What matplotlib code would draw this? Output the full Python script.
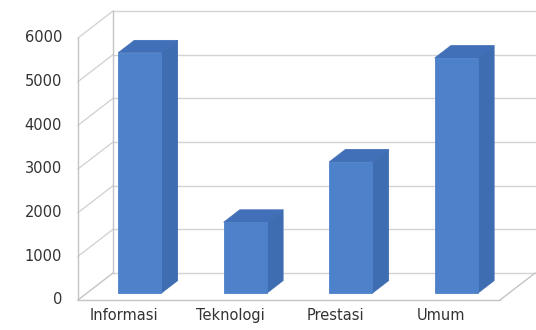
import matplotlib.pyplot as plt
from matplotlib.patches import Polygon

categories = ['Informasi', 'Teknologi', 'Prestasi', 'Umum']
values = [5500, 1620, 3000, 5380]
yticks = [0, 1000, 2000, 3000, 4000, 5000, 6000]
ymax = 6000

# oblique depth offset of the 3d box (category units, value units)
DX, DY = 0.332, 618
BAR_W = 0.41
BAR_D0, BAR_D1 = 0.26, 0.72

FRONT = '#4d81c9'
SIDE = '#3f6db2'
TOP = '#4270b8'
GRID = '#d4d4d4'
EDGE = '#c4c4c4'


def proj(x, v, d):
    return (x + DX * d, v + DY * d)


fig = plt.figure(figsize=(5.36, 3.30), dpi=100)
ax = fig.add_axes([0, 0, 1, 1])
ax.set_xlim(-0.739, 4.341)
ax.set_ylim(-687, 6870)
ax.axis('off')

n = len(categories)

# back wall gridlines and left wall diagonals
for t in yticks:
    bx0, by = proj(0, t, 1)
    bx1, _ = proj(n, t, 1)
    ax.plot([bx0, bx1], [by, by], color=GRID, lw=1, zorder=1)
    ax.plot([0, bx0], [t, by], color=GRID if t > 0 else EDGE, lw=1, zorder=1)

# wall edges and floor outline
bx, btop = proj(0, ymax, 1)
_, bbot = proj(0, 0, 1)
ax.plot([bx, bx], [bbot, btop], color=EDGE, lw=1, zorder=1)
ax.plot([0, 0], [0, ymax], color=EDGE, lw=1, zorder=1)
ax.plot([0, n], [0, 0], color=EDGE, lw=1, zorder=1)
ax.plot([n, n + DX], [0, DY], color=EDGE, lw=1, zorder=1)

# 3d columns
for i, v in enumerate(values):
    x0 = i + 0.5 - BAR_W / 2
    x1 = i + 0.5 + BAR_W / 2
    front = [proj(x0, 0, BAR_D0), proj(x1, 0, BAR_D0),
             proj(x1, v, BAR_D0), proj(x0, v, BAR_D0)]
    side = [proj(x1, 0, BAR_D0), proj(x1, 0, BAR_D1),
            proj(x1, v, BAR_D1), proj(x1, v, BAR_D0)]
    top = [proj(x0, v, BAR_D0), proj(x1, v, BAR_D0),
           proj(x1, v, BAR_D1), proj(x0, v, BAR_D1)]
    ax.add_patch(Polygon(side, closed=True, fc=SIDE, ec=SIDE, lw=0.6, zorder=3))
    ax.add_patch(Polygon(top, closed=True, fc=TOP, ec=TOP, lw=0.6, zorder=3))
    ax.add_patch(Polygon(front, closed=True, fc=FRONT, ec=FRONT, lw=0.6, zorder=4))

# value axis labels
for t in yticks:
    ax.text(-0.152, t, str(t), ha='right', va='center',
            fontsize=10.5, color='#333333')

# category labels
for i, c in enumerate(categories):
    ax.text(i + 0.44, -366, c, ha='center', va='center',
            fontsize=10.5, color='#333333')

# caption line of the surrounding page, mostly outside the frame
fig.text(10 / 536, 1 + 3.6 / 330, 'Hasil kategori dapat dilihat pada Gambar 3.',
         ha='left', va='baseline', fontsize=14, fontweight='bold', color='black')

fig.savefig('out.png', dpi=100)
